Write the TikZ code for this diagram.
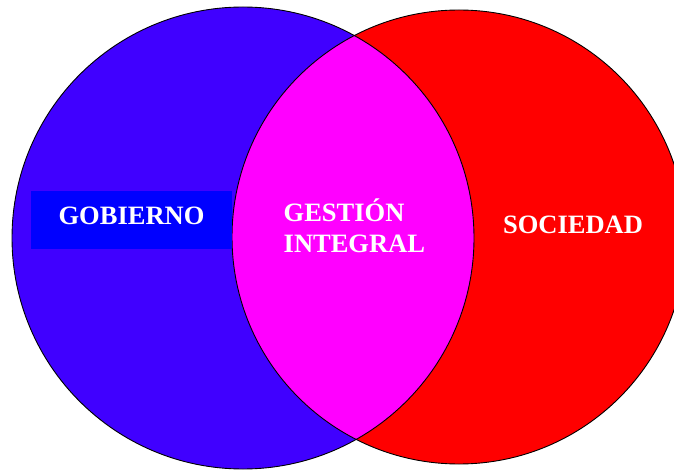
\documentclass[tikz,border=0pt]{standalone}
\usepackage{fontspec}
\setmainfont{Liberation Serif}
\begin{document}
\begin{tikzpicture}[x=1pt,y=-1pt,
  ring/.style={draw=black,line width=0.9pt},
  lbl/.style={text=white,font=\bfseries\fontsize{26.5}{30}\selectfont,inner sep=0pt}]
\definecolor{gobblue}{RGB}{64,0,255}
\definecolor{rectblue}{RGB}{0,0,255}
\definecolor{lensmag}{RGB}{255,0,255}
\definecolor{socred}{RGB}{255,0,0}
\clip (0,0) rectangle (674,470);
\useasboundingbox (0,0) rectangle (674,470);
\fill[white] (0,0) rectangle (674,470);
\coordinate (cb) at (243,238);
\coordinate (cr) at (459,237);
\fill[gobblue] (cb) circle (231pt);
\fill[socred] (cr) circle (227pt);
\begin{scope}
  \clip (cb) circle (231pt);
  \fill[lensmag] (cr) circle (227pt);
\end{scope}
\draw[ring] (cb) circle (231pt);
\draw[ring] (cr) circle (227pt);
\node[fill=rectblue,minimum width=201pt,minimum height=58pt,inner sep=0pt] (box) at (131.5,220) {};
\node[lbl,anchor=base] (gob) at (131.5,225) {GOBIERNO};
\node[lbl,anchor=base west] (g1) at (283.5,222) {GESTIÓN};
\node[lbl,anchor=base west] (g2) at (283.5,252) {INTEGRAL};
\node[lbl,anchor=base] (soc) at (573,234) {SOCIEDAD};
\end{tikzpicture}
\end{document}
